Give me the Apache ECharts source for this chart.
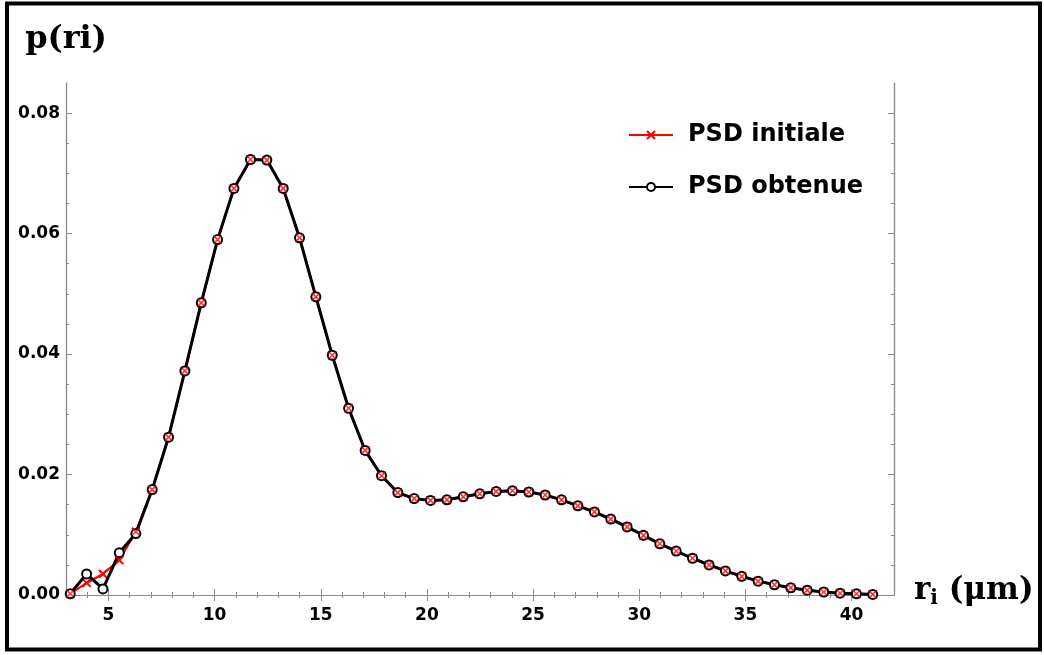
<!DOCTYPE html>
<html><head><meta charset="utf-8">
<script src="https://cdn.jsdelivr.net/npm/echarts@6/dist/echarts.min.js"></script>
<style>html,body{margin:0;padding:0;background:#fff}#c{width:1044px;height:655px}</style>
</head><body><div id="c"></div>
<script>
// radii r_i (µm)
const r = [3.20,3.97,4.74,5.51,6.29,7.06,7.83,8.60,9.37,10.14,10.91,11.69,12.46,13.23,14.00,14.77,15.54,16.31,17.09,17.86,
  18.63,19.40,20.17,20.94,21.71,22.49,23.26,24.03,24.80,25.57,26.34,27.11,27.89,28.66,29.43,30.20,30.97,31.74,32.51,33.29,
  34.06,34.83,35.60,36.37,37.14,37.91,38.69,39.46,40.23,41.00];
// PSD initiale
const pInitiale = [0.0002,0.0020,0.0035,0.0058,0.0105,0.0175,0.0262,0.0372,0.0485,0.0590,0.0675,0.0723,0.0722,0.0675,0.0593,0.0495,0.0398,0.0310,0.0240,0.0198,
  0.0170,0.0160,0.0157,0.0158,0.0163,0.0168,0.0172,0.0173,0.0171,0.0166,0.0158,0.0148,0.0138,0.0126,0.0113,0.0099,0.0085,0.0073,0.0061,0.0050,
  0.0040,0.0031,0.0023,0.0017,0.0012,0.0008,0.0005,0.0003,0.0002,0.0001];
// PSD obtenue
const pObtenue = [0.0002,0.0035,0.0010,0.0070,0.0102,0.0175,0.0262,0.0372,0.0485,0.0590,0.0675,0.0723,0.0722,0.0675,0.0593,0.0495,0.0398,0.0310,0.0240,0.0198,
  0.0170,0.0160,0.0157,0.0158,0.0163,0.0168,0.0172,0.0173,0.0171,0.0166,0.0158,0.0148,0.0138,0.0126,0.0113,0.0099,0.0085,0.0073,0.0061,0.0050,
  0.0040,0.0031,0.0023,0.0017,0.0012,0.0008,0.0005,0.0003,0.0002,0.0001];
// ticks
const xMajorTicks = [5,10,15,20,25,30,35,40];
const xMinorTicks = [4,6,7,8,9,11,12,13,14,16,17,18,19,21,22,23,24,26,27,28,29,31,32,33,34,36,37,38,39,41];
const yMajorTicks = [0,0.02,0.04,0.06,0.08];
const yMinorTicks = [0.005,0.01,0.015,0.025,0.03,0.035,0.045,0.05,0.055,0.065,0.07,0.075];
const X_MIN = 3, X_MAX = 42, Y_MIN = 0, Y_MAX = 0.085;

const frameColor = '#8c8c8c';
const labelFont = {fontFamily:'DejaVu Sans', fontWeight:'bold', fontSize:17, color:'#000'};

function xAx(pos, major, withLabel, extra) {
  return Object.assign({
    type:'value', gridIndex:0, position:pos, min:X_MIN, max:X_MAX,
    axisLine:{show:true, lineStyle:{color:frameColor, width:1.2}},
    axisTick:{show:true, inside:true, length: major?6:3, customValues: major?xMajorTicks:xMinorTicks, lineStyle:{color:frameColor, width:1}},
    axisLabel: withLabel ? Object.assign({show:true, margin:12, customValues:xMajorTicks}, labelFont) : {show:false},
    splitLine:{show:false}
  }, extra||{});
}
function yAx(pos, major, withLabel, extra) {
  return Object.assign({
    type:'value', gridIndex:0, position:pos, min:Y_MIN, max:Y_MAX,
    axisLine:{show:true, lineStyle:{color:frameColor, width:1.2}},
    axisTick:{show:true, inside:true, length: major?6:3, customValues: major?yMajorTicks:yMinorTicks, lineStyle:{color:frameColor, width:1}},
    axisLabel: withLabel ? Object.assign({show:true, margin:6, customValues:yMajorTicks, formatter:v=>v.toFixed(2)}, labelFont) : {show:false},
    splitLine:{show:false}
  }, extra||{});
}

const chart = echarts.init(document.getElementById('c'), null, {renderer:'canvas'});
const crossPath = 'path://M0,0L10,10M0,10L10,0';
chart.setOption({
  animation:false,
  backgroundColor:'#fff',
  grid:{left:66, right:150, top:83, bottom:60, containLabel:false},
  graphic:[{type:'rect', z:100, shape:{x:7, y:3.5, width:1033, height:646}, style:{fill:'none', stroke:'#000', lineWidth:4}}],
  legend:{
    orient:'vertical', left:623, top:118, itemWidth:44, itemHeight:10, itemGap:28,
    data:['PSD initiale','PSD obtenue'],
    textStyle:{fontFamily:'DejaVu Sans', fontWeight:'bold', fontSize:24, color:'#000', padding:[0,0,0,10]}
  },
  xAxis:[
    xAx('bottom', true, true, {
      name:'{r|r}{s|i}{u| (μm)}', nameLocation:'end', nameGap:20,
      nameTextStyle:{padding:[0,0,8,0], rich:{
        r:{fontFamily:'DejaVu Serif', fontWeight:'bold', fontSize:31, color:'#000', lineHeight:40, verticalAlign:'middle'},
        s:{fontFamily:'DejaVu Serif', fontWeight:'bold', fontSize:20, color:'#000', lineHeight:40, verticalAlign:'middle', padding:[16,0,0,0]},
        u:{fontFamily:'DejaVu Serif', fontWeight:'bold', fontSize:31, color:'#000', lineHeight:40, verticalAlign:'middle'}
      }}
    }),
    xAx('bottom', false, false),
    xAx('top', true, false),
    xAx('top', false, false)
  ],
  yAxis:[
    yAx('left', true, true, {
      name:'p(ri)', nameLocation:'end', nameGap:27,
      nameTextStyle:{fontFamily:'DejaVu Serif', fontWeight:'bold', fontSize:32, color:'#000'}
    }),
    yAx('left', false, false),
    yAx('right', true, false),
    yAx('right', false, false)
  ],
  series:[
    {
      name:'PSD initiale', type:'line', xAxisIndex:0, yAxisIndex:0, z:2,
      data: r.map((x,i)=>[x, pInitiale[i]]),
      symbol:crossPath, symbolSize:8, showSymbol:true,
      lineStyle:{color:'#ff0000', width:2.2},
      itemStyle:{color:'#ff0000', borderColor:'#ff0000', borderWidth:1.8}
    },
    {
      name:'PSD obtenue', type:'line', xAxisIndex:0, yAxisIndex:0, z:3,
      data: r.map((x,i)=>[x, pObtenue[i]]),
      symbol:'emptyCircle', symbolSize:9, showSymbol:true,
      lineStyle:{color:'#000', width:3},
      itemStyle:{color:'#000', borderColor:'#000', borderWidth:1.6}
    },
    {
      name:'initiale-markers', type:'scatter', xAxisIndex:0, yAxisIndex:0, z:4,
      data: r.map((x,i)=>[x, pInitiale[i]]),
      symbol:crossPath, symbolSize:7,
      itemStyle:{color:'#ff0000', borderColor:'#ff0000', borderWidth:1.6}
    }
  ]
});
</script></body></html>
